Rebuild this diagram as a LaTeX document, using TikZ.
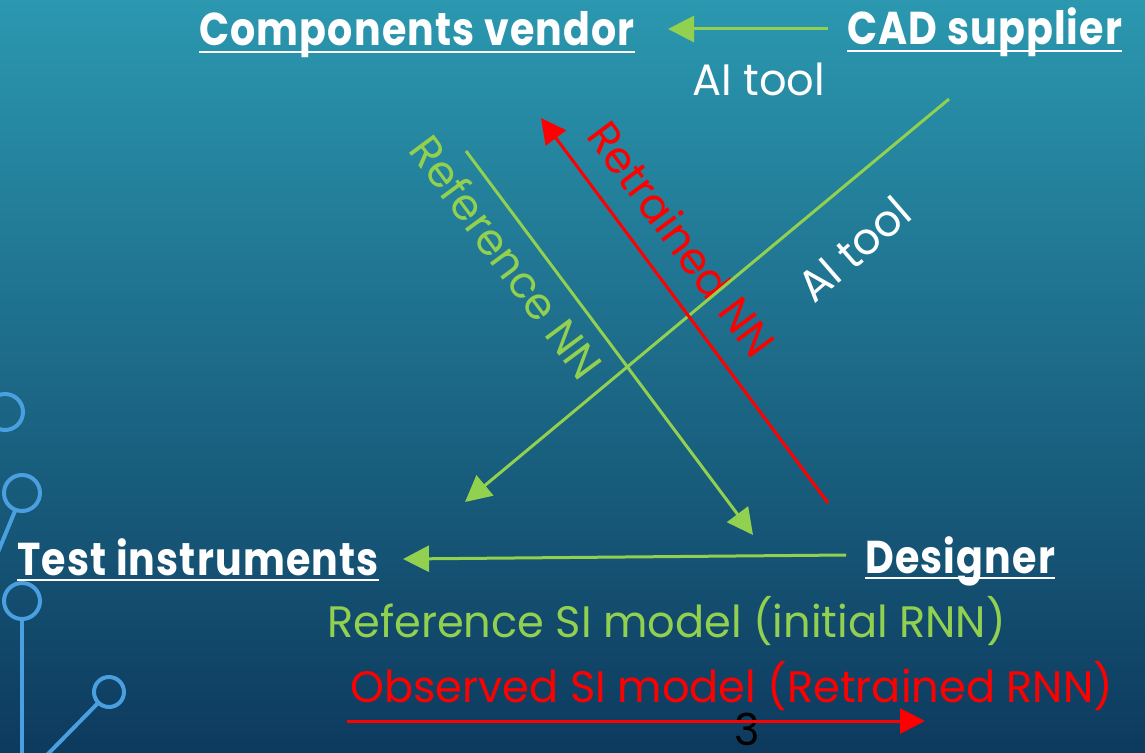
\documentclass[tikz,border=0pt]{standalone}
\usepackage{fontspec}
\setmainfont{Poppins}
\newfontfamily\twfont[FakeStretch=0.98]{Poppins}
\newfontfamily\twhead[FakeStretch=0.86,LetterSpace=2.5]{Poppins}
\usetikzlibrary{arrows.meta,positioning,calc}

\definecolor{bgtop}{RGB}{43,152,176}
\definecolor{bgmid}{RGB}{30,112,145}
\definecolor{bgbot}{RGB}{13,58,94}
\definecolor{ppgreen}{RGB}{146,208,80}
\definecolor{circblue}{RGB}{74,159,224}

\tikzset{
  hd/.style={inner sep=0pt, anchor=base west, text=white, font=\twhead\bfseries\fontsize{46}{50}\selectfont},
  lbl/.style={inner sep=0pt, font=\twfont\fontsize{44}{48}\selectfont},
  gline/.style={draw=ppgreen, line width=3pt, -{Triangle[length=26pt,width=26pt]}},
  rline/.style={draw=red, line width=3pt, -{Triangle[length=25pt,width=25pt]}},
  circ/.style={draw=circblue, line width=4pt},
  uline/.style={draw=white, line width=2.5pt},
}

\begin{document}
\begin{tikzpicture}[x=1pt,y=-1pt]
\useasboundingbox (0,0) rectangle (1145,752);
\clip (0,0) rectangle (1145,752);

%Background
\shade[top color=bgtop, middle color=bgmid, bottom color=bgbot] (0,0) rectangle (1145,752);

%Circuit decoration
\draw[circ] (5,412) circle (18);
\draw[circ] (22,493) circle (18);
\draw[circ] (15,511) -- (-2,552);
\draw[circ] (22,601) circle (18);
\draw[circ] (22,619) -- (22,760);
\draw[circ] (109,692) circle (15);
\draw[circ] (98,703) -- (46,756);

% Text Node
\node[hd] (cv) at (199,46) {Components vendor};
% Text Node
\node[hd] (cad) at (847,45) {CAD supplier};
% Text Node
\node[hd] (ti) at (17,575) {Test instruments};
% Text Node
\node[hd] (des) at (865,573) {Designer};

%Underlines
\draw[uline] ([yshift=-6pt]cv.base west) -- ([yshift=-6pt]cv.base east);
\draw[uline] ([yshift=-6pt]cad.base west) -- ([yshift=-6pt]cad.base east);
\draw[uline] ([yshift=-5pt]ti.base west) -- ([yshift=-5pt]ti.base east);
\draw[uline] ([yshift=-5pt]des.base west) -- ([yshift=-5pt]des.base east);

% Text Node
\node[lbl, anchor=base west, text=white] (aitop) at (692,95) {AI tool};
% Text Node
\node[lbl, anchor=base west, text=ppgreen] (refsi) at (327,637) {Reference SI model (initial RNN)};
% Text Node
\node[lbl, anchor=base west, text=red] (obssi) at (350,702) {Observed SI model (Retrained RNN)};
% Text Node
\node[lbl, rotate=-53.4, text=ppgreen] (refnn) at (507,257) {Reference NN};
% Text Node
\node[lbl, rotate=-53.3, text=red] (retnn) at (682,239) {Retrained NN};
% Text Node
\node[lbl, rotate=41, text=white] (aitdiag) at (854,249) {AI tool};
% Text Node
\node[lbl, text=black] (pgnum) at (747,729) {3};

%Arrow ends
\coordinate (cadw) at (828,29);
\coordinate (cve) at (668,29);
\coordinate (aitS) at (949,99);
\coordinate (aitE) at (465,502);
\coordinate (refS) at (466,151);
\coordinate (refE) at (753,535);
\coordinate (retS) at (828,503);
\coordinate (retE) at (541,118);
\coordinate (desw) at (846,555);
\coordinate (tie) at (403,559);
\coordinate (obsS) at (347,721);
\coordinate (obsE) at (925,721);

%Straight Lines
\draw[gline] (cadw) -- (cve);
\draw[gline] (aitS) -- (aitE);
\draw[gline] (refS) -- (refE);
\draw[rline] (retS) -- (retE);
\draw[gline] (desw) -- (tie);
\draw[rline] (obsS) -- (obsE);

\end{tikzpicture}
\end{document}
